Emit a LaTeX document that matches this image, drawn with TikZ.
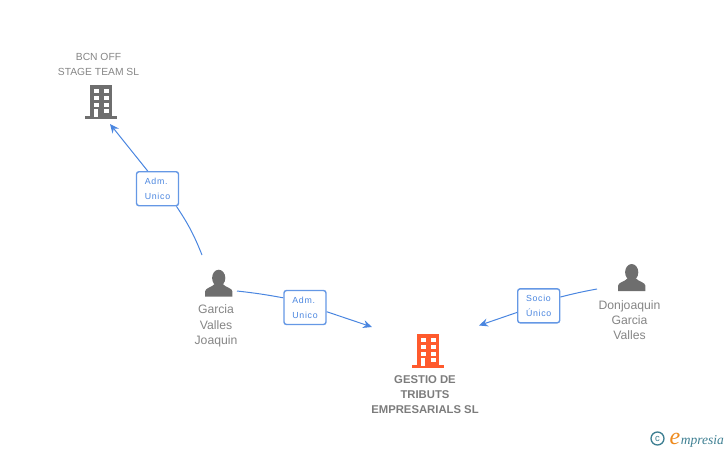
\documentclass[tikz,border=0pt]{standalone}
\usepackage{fontspec}
\setmainfont{Liberation Sans}
\newfontfamily\relfont[LetterSpace=8]{Liberation Sans}
\newfontfamily\logofont{Liberation Serif}
\usepackage{tikz}
\usetikzlibrary{arrows.meta}
\definecolor{linkblue}{HTML}{4A86E0}
\definecolor{iconGray}{HTML}{6E6E6E}
\definecolor{textGray}{HTML}{858585}
\definecolor{mainOrange}{HTML}{FF5A2D}
\definecolor{logoTeal}{HTML}{3E7F92}
\definecolor{logoOrange}{HTML}{EE8A1D}
\tikzset{arrow/.style={-{Stealth[length=9pt, width=8pt]}, linkblue, line width=1pt}}
\tikzset{link/.style={linkblue, line width=1pt}}
\tikzset{relbox/.style={draw=linkblue!85, line width=1.4pt, fill=white, rounded corners=2.5pt, minimum width=42pt, minimum height=34pt, inner sep=0pt, text=linkblue, align=left, font=\relfont\fontsize{8.8}{15}\selectfont}}
\tikzset{company/.style={text=textGray, align=center, inner sep=0pt, font=\fontsize{10.3}{15}\selectfont}}
\tikzset{mainco/.style={text=iconGray!90, align=center, inner sep=0pt, font=\bfseries\fontsize{11.3}{15}\selectfont}}
\tikzset{human/.style={text=textGray, align=center, inner sep=0pt, font=\fontsize{12.2}{15.2}\selectfont}}
\newcommand{\building}[3]{%
  \begin{scope}[shift={(#1,#2)}]
    \fill[#3] (-11,0) rectangle (11,31);
    \fill[#3] (-16,31) rectangle (16,34);
    \foreach \wx in {-7,3}
      \foreach \wy in {4,11,18}
        \fill[white] (\wx,\wy) rectangle ++(4.6,4.3);
    \fill[white] (3,24) rectangle ++(4.6,4.3);
    \fill[white] (-7,24) rectangle (-3,31.5);
  \end{scope}}
\newcommand{\person}[2]{%
  \begin{scope}[shift={(#1,#2)}]
    \fill[iconGray] (0,8) ellipse (6.6 and 8.3);
    \fill[iconGray] (-13.7,26.7) -- (-13.7,21.5) .. controls (-13.7,18) and (-7,17.5) .. (-4,14) -- (4,14) .. controls (7,17.5) and (13.7,18) .. (13.7,21.5) -- (13.7,26.7) -- cycle;
  \end{scope}}

\begin{document}
\begin{tikzpicture}[x=1pt, y=-1pt]
      \useasboundingbox (0,0) rectangle (728,450);

      \building{101}{85}{iconGray}
      \building{428.3}{334}{mainOrange}
      \person{218.7}{270}
      \person{631.7}{264.3}

      \node[company] (bcn) at (98.5,64) {BCN OFF\\STAGE TEAM SL};
      \node[mainco] (gestio) at (425,394.5) {GESTIO DE\\TRIBUTS\\EMPRESARIALS SL};
      \node[human] (garcia) at (216,326) {Garcia\\Valles\\Joaquin};
      \node[human] (donjoaquin) at (629.5,320) {Donjoaquin\\Garcia\\Valles};

      \coordinate (bcnTip) at (110,124);
      \coordinate (garciaUp) at (202,255);
      \coordinate (garciaRight) at (237,291);
      \coordinate (gestioLeft) at (372,327);
      \coordinate (gestioRight) at (479,325.5);
      \coordinate (donLeft) at (597,289);

      \node[relbox] (adm1) at (157.5,188.7) {Adm.\\Unico};
      \node[relbox] (adm2) at (305,307.5) {Adm.\\Unico};
      \node[relbox] (socio) at (538.7,305.8) {Socio\\Único};

      \draw[link] (garciaUp) to[bend right=6] (adm1.317);
      \draw[arrow] (adm1.119) -- (bcnTip);
      \draw[link] (garciaRight) to[bend left=2] (adm2.156);
      \draw[arrow] (adm2.-11) -- (gestioLeft);
      \draw[link] (donLeft) to[bend right=2] (socio.22);
      \draw[arrow] (socio.197) -- (gestioRight);

      \node[draw=logoTeal, line width=1.3pt, circle, inner sep=0pt, minimum size=13pt, text=logoTeal, font=\fontsize{9.5}{9.5}\selectfont] (copyr) at (657.5,438.5) {c};
      \node[inner sep=0pt, anchor=base west, text=logoOrange, font=\logofont\itshape\fontsize{24}{24}\selectfont] (logoE) at (669.5,444) {e};
      \node[inner sep=0pt, anchor=base west, text=logoTeal, font=\logofont\itshape\fontsize{13.5}{13.5}\selectfont] (logoName) at (logoE.base east) {mpresia};
    \end{tikzpicture}
\end{document}
